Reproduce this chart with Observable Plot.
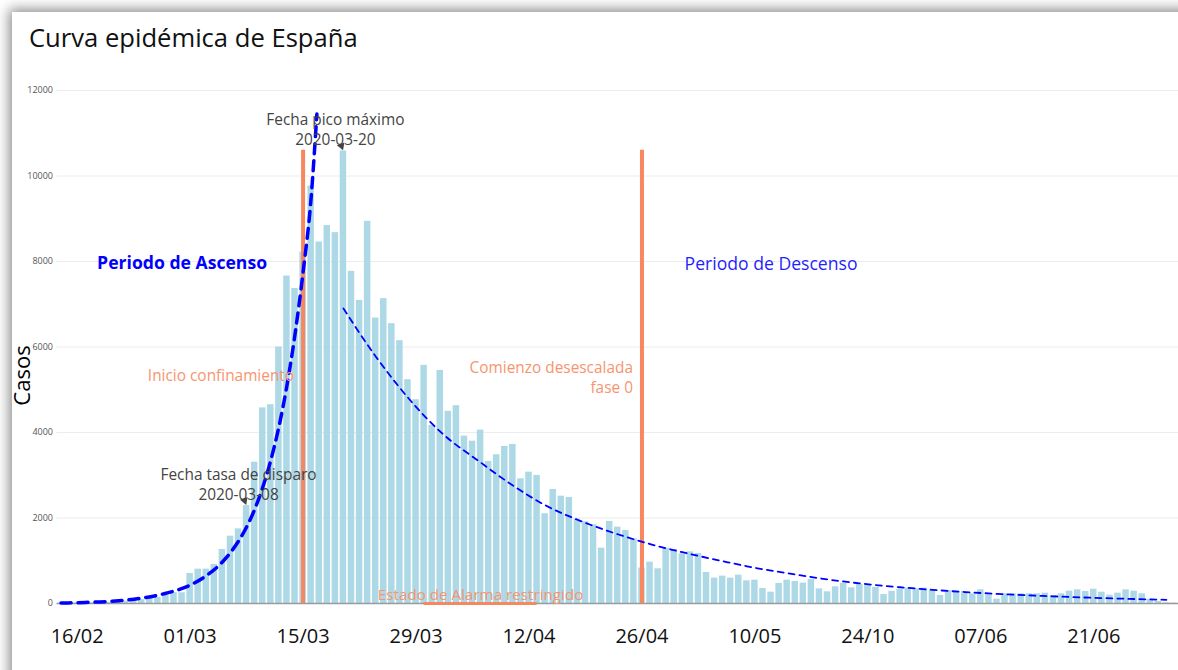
<!DOCTYPE html>
<html><head><meta charset="utf-8">
<script src="https://cdn.jsdelivr.net/npm/d3@7"></script>
<script src="https://cdn.jsdelivr.net/npm/@observablehq/plot@0.6"></script>
<style>
html,body{margin:0;padding:0;overflow:hidden;background:#fff;width:1178px;height:670px}
#card{position:absolute;left:12px;top:12px;width:1200px;height:700px;background:#fff;box-shadow:0 0 12px 3px rgba(0,0,0,0.45)}
#title{position:absolute;left:29px;top:20px;font-family:"Open Sans";font-size:25.6px;color:#111}
#chart{position:absolute;left:0;top:70px}
</style></head><body>
<div id="card"></div>
<div id="title">Curva epidémica de España</div>
<div id="chart"></div>
<script>
// Daily cases from 2020-02-14 to 2020-07-01
const fechaInicio = "2020-02-14";
const casos = [
  5, 8, 10, 12, 15, 20, 30, 40, 55, 62, 90, 117, 140, 190, 255, 250,
  702, 803, 803, 913, 1264, 1575, 1746, 2290, 3305, 4575, 4650, 6000, 7660, 7370, 8220, 9766,
  8456, 8840, 8675, 10585, 7770, 7090, 8940, 6677, 7131, 6546, 6148, 5235, 4767, 5570, 4166,
  5453, 4493, 4627, 3915, 3798, 4056, 3323, 3480, 3674, 3721, 2918, 3073, 2996, 2099, 2668,
  2511, 2481, 1973, 1911, 1841, 1295, 1919, 1786, 1708, 1514, 830, 967, 812, 1295, 1264,
  1162, 1209, 1170, 725, 593, 640, 593, 663, 530, 546, 351, 265, 468, 546, 515, 476, 562,
  343, 273, 390, 476, 367, 445, 445, 375, 211, 285, 330, 359, 343, 359,
  304, 187, 304, 289, 281, 226, 320, 187, 101, 226, 226, 226, 226, 226, 242, 187, 226,
  289, 320, 281, 335, 265, 195, 242, 320, 289, 226, 101, 47, 16,
  8
];
const fechaFin = "2020-07-01";

// Fitted curves as drawn in the picture
const ascensoFechas = ["2020-02-14","2020-02-17","2020-02-20","2020-02-24","2020-02-27","2020-03-01","2020-03-03","2020-03-05","2020-03-06","2020-03-07","2020-03-08","2020-03-09","2020-03-10","2020-03-11","2020-03-12","2020-03-13","2020-03-14","2020-03-15","2020-03-16","2020-03-16T17:00"];
const ascensoValores = [10, 25, 50, 125, 240, 430, 650, 970, 1190, 1460, 1790, 2200, 2720, 3350, 4130, 5100, 6300, 7750, 9500, 11450];
const descensoFechas = ["2020-03-20","2020-03-24","2020-03-29","2020-04-01","2020-04-06","2020-04-10","2020-04-14","2020-04-18","2020-04-23","2020-04-27","2020-05-01","2020-05-06","2020-05-09","2020-05-14","2020-05-18","2020-05-23","2020-05-28","2020-06-01","2020-06-05","2020-06-09","2020-06-13","2020-06-17","2020-06-21","2020-06-25","2020-06-30"];
const descensoValores = [6900, 5780, 4600, 4020, 3300, 2760, 2300, 1960, 1620, 1390, 1200, 990, 870, 710, 590, 470, 380, 320, 268, 225, 190, 160, 133, 110, 87];

// Axis ticks
const yTicks = [0, 2000, 4000, 6000, 8000, 10000, 12000];
const xTickFechas = ["2020-02-16","2020-03-01","2020-03-15","2020-03-29","2020-04-12","2020-04-26","2020-05-10","2020-05-24","2020-06-07","2020-06-21"];
const xTickTextos = ["16/02","01/03","15/03","29/03","12/04","26/04","10/05","24/10","07/06","21/06"];

// Events
const eventosFechas = ["2020-03-15", "2020-04-26"];
const eventosAltura = 10600;
const alarmaInicio = "2020-03-30", alarmaFin = "2020-04-13";

const P = s => new Date(s.length > 10 ? s + ":00Z" : s + "T00:00:00Z");
const HALF = 12 * 3600 * 1000;
const start = P(fechaInicio);
const bars = casos.map((v, i) => ({date: d3.utcDay.offset(start, i), value: v}));
const asc = ascensoFechas.map((d, i) => ({date: P(d), value: ascensoValores[i]}));
const desc = descensoFechas.map((d, i) => ({date: P(d), value: descensoValores[i]}));
const tickMap = new Map(xTickFechas.map((d, i) => [+P(d), xTickTextos[i]]));

const orange = "#f8875f";
const orangeText = "#f7946f";

const chart = Plot.plot({
  width: 1178, height: 600,
  marginLeft: 56.5, marginRight: 0, marginTop: 20, marginBottom: 67,
  x: {type: "utc", domain: [new Date(+start - HALF), new Date(+P(fechaFin) + HALF)]},
  y: {domain: [0, 12000]},
  style: {fontFamily: "Open Sans", background: "transparent", overflow: "visible"},
  marks: [
    Plot.gridY(yTicks, {stroke: "#ececec", strokeOpacity: 1, strokeWidth: 1}),
    Plot.axisY(yTicks, {tickSize: 0, tickPadding: 4, fontSize: 9, color: "#555", tickFormat: d => String(d), label: null}),
    Plot.axisX(xTickFechas.map(P), {tickSize: 0, tickPadding: 25, fontSize: 20, color: "#111", tickFormat: d => tickMap.get(+d), label: null}),
    Plot.rectY(bars, {x1: d => new Date(+d.date - HALF), x2: d => new Date(+d.date + HALF), y: "value", fill: "#add8e6", insetLeft: 0.8, insetRight: 0.8}),
    Plot.ruleY([0], {stroke: "#9a9a9a", strokeWidth: 1.5}),
    Plot.ruleX(eventosFechas.map(P), {y1: 0, y2: eventosAltura, stroke: orange, strokeWidth: 4}),
    Plot.ruleY([0], {x1: P(alarmaInicio), x2: P(alarmaFin), stroke: orange, strokeWidth: 3}),
    Plot.line(asc, {x: "date", y: "value", stroke: "#0000ff", strokeWidth: 3.5, strokeDasharray: "10,7", curve: "monotone-x"}),
    Plot.line(desc, {x: "date", y: "value", stroke: "#0000ff", strokeWidth: 1.8, strokeDasharray: "6,5", curve: "monotone-x"}),
    Plot.text([{x: P("2020-02-29"), y: 7950}], {x: "x", y: "y", text: () => "Periodo de Ascenso", fill: "#0000ff", fontWeight: "bold", fontSize: 17.6}),
    Plot.text([{x: P("2020-05-12"), y: 7930}], {x: "x", y: "y", text: () => "Periodo de Descenso", fill: "#1f1fff", fontSize: 17.6}),
    Plot.text([{x: P("2020-03-15"), y: 5310}], {x: "x", y: "y", text: () => "Inicio confinamiento", fill: orangeText, fontSize: 15.4, textAnchor: "end", dx: -9}),
    Plot.text([{x: P("2020-04-26"), y: 5310}], {x: "x", y: "y", text: () => "Comienzo desescalada\nfase 0", fill: orangeText, fontSize: 15.4, textAnchor: "end", dx: -9, lineHeight: 1.3}),
    Plot.text([{x: P("2020-04-06"), y: 190}], {x: "x", y: "y", text: () => "Estado de Alarma restringido", fill: orangeText, fontSize: 15.2}),
    Plot.text([{x: P("2020-03-19"), y: 11115}], {x: "x", y: "y", text: () => "Fecha pico máximo\n2020-03-20", fill: "#444", fontSize: 15.4, lineHeight: 1.3}),
    Plot.text([{x: P("2020-03-07"), y: 2810}], {x: "x", y: "y", text: () => "Fecha tasa de disparo\n2020-03-08", fill: "#444", fontSize: 15.4, lineHeight: 1.3}),
    Plot.dot([{x: P("2020-03-20"), y: 10585}, {x: P("2020-03-08"), y: 2290}], {x: "x", y: "y", symbol: "triangle", r: 3, fill: "#444", rotate: 160, dy: -5, dx: -2}),
    Plot.text(["Casos"], {frameAnchor: "left", dx: -34.5, dy: 28.5, rotate: -90, textAnchor: "middle", fontSize: 22, fill: "#000"})
  ]
});
document.getElementById("chart").appendChild(chart);
</script></body></html>
